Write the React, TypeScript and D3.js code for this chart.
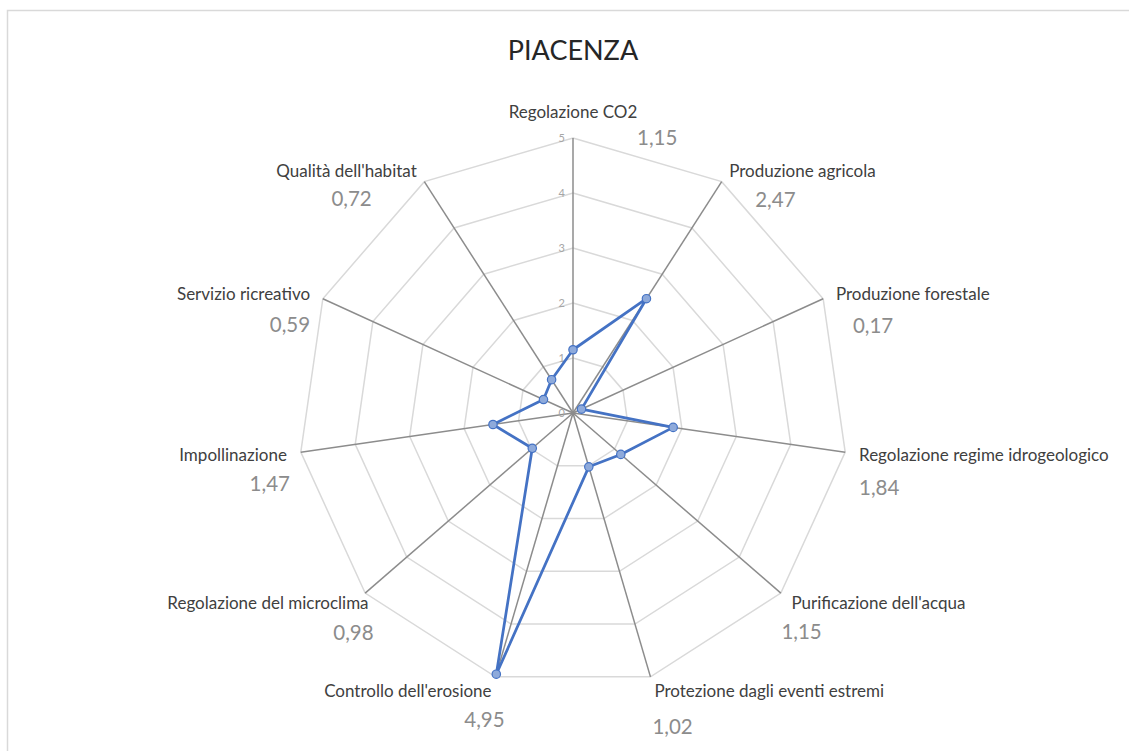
import React, { useRef, useEffect } from 'react';
import * as d3 from 'd3';

const categories = [
  'Regolazione CO2',
  'Produzione agricola',
  'Produzione forestale',
  'Regolazione regime idrogeologico',
  "Purificazione dell'acqua",
  'Protezione dagli eventi estremi',
  "Controllo dell'erosione",
  'Regolazione del microclima',
  'Impollinazione',
  'Servizio ricreativo',
  "Qualità dell'habitat",
];
const values = [1.15, 2.47, 0.17, 1.84, 1.15, 1.02, 4.95, 0.98, 1.47, 0.59, 0.72];
const ticks = [0, 1, 2, 3, 4, 5];
const title = 'PIACENZA';

// horizontal nudge for a few category labels
const labelNudge = [0, 0, 0, 0, 0, 0, 0, 14, 0, 0, 0];
// where the value text sits relative to the category label (dx, dy below)
const valueOffsets: [number, number][] = [
  [64, 0], [26, 28], [17, 31], [0, 32], [-10, 28], [-2, 35],
  [13, 28], [5, 29], [3, 28], [0, 30], [-45, 27],
];

const App = () => {
  const svgRef = useRef<SVGSVGElement>(null);
  const width = 1129;
  const height = 751;
  const cx = 573;
  const cy = 413;
  const radius = 275;

  useEffect(() => {
    const svg = d3.select(svgRef.current);
    svg.selectAll('*').remove();

    const font = 'Lato, "Open Sans", sans-serif';
    const n = categories.length;
    const r = d3.scaleLinear().domain([0, 5]).range([0, radius]);
    const angle = d3.scaleLinear().domain([0, n]).range([0, 2 * Math.PI]);
    const pt = (i: number, v: number): [number, number] => [
      cx + r(v) * Math.sin(angle(i)),
      cy - r(v) * Math.cos(angle(i)),
    ];

    svg.append('rect')
      .attr('x', 7.5).attr('y', 10.5)
      .attr('width', width).attr('height', height)
      .attr('fill', 'white')
      .attr('stroke', '#d9d9d9').attr('stroke-width', 1.5);

    svg.append('text')
      .attr('x', cx).attr('y', 60)
      .attr('text-anchor', 'middle')
      .attr('font-family', font).attr('font-size', 27)
      .attr('fill', '#262626')
      .text(title);

    const g = svg.append('g');

    // grid rings
    ticks.filter(t => t > 0).forEach(t => {
      const ring = d3.range(n).map(i => pt(i, t));
      g.append('path')
        .attr('d', d3.line()(ring) + 'Z')
        .attr('fill', 'none')
        .attr('stroke', '#d9d9d9').attr('stroke-width', 1.5);
    });

    // spokes
    categories.forEach((_, i) => {
      const [x, y] = pt(i, 5);
      g.append('line')
        .attr('x1', cx).attr('y1', cy).attr('x2', x).attr('y2', y)
        .attr('stroke', '#8c8c8c').attr('stroke-width', 1.5);
    });

    // tick labels
    ticks.forEach(t => {
      g.append('text')
        .attr('x', cx - 8).attr('y', cy - r(t) + 4)
        .attr('text-anchor', 'end')
        .attr('font-family', font).attr('font-size', 11)
        .attr('fill', '#a6a6a6')
        .text(t);
    });

    // data
    const pts = values.map((v, i) => pt(i, v));
    g.append('path')
      .attr('d', d3.line()(pts) + 'Z')
      .attr('fill', 'none')
      .attr('stroke', '#4472c4').attr('stroke-width', 2.75)
      .attr('stroke-linejoin', 'round');
    g.selectAll('circle.pt')
      .data(pts)
      .enter().append('circle')
      .attr('cx', d => d[0]).attr('cy', d => d[1])
      .attr('r', 4.2)
      .attr('fill', '#8eaadb')
      .attr('stroke', '#4472c4').attr('stroke-width', 1.2);

    // category + value labels
    categories.forEach((c, i) => {
      const a = angle(i);
      const s = Math.sin(a);
      const [ex, ey] = pt(i, 5);
      const lx = ex + 14 * s + labelNudge[i];
      const ly = ey - 14 * Math.cos(a);
      const anchor = Math.abs(s) < 0.1 ? 'middle' : s > 0 ? 'start' : 'end';
      const yBase = i === 0 ? ly - 6 : ly + 7;
      g.append('text')
        .attr('x', lx).attr('y', yBase)
        .attr('text-anchor', anchor)
        .attr('font-family', font).attr('font-size', 17)
        .attr('fill', '#404040')
        .text(c);
      const [dx, dy] = valueOffsets[i];
      g.append('text')
        .attr('x', lx + dx).attr('y', (i === 0 ? ly + 21 : yBase + dy + 2))
        .attr('text-anchor', i === 0 ? 'start' : anchor)
        .attr('font-family', font).attr('font-size', 20.5)
        .attr('fill', '#8c8c8c')
        .text(d3.format('.2f')(values[i]).replace('.', ','));
    });
  }, []);

  return (
    <svg
      ref={svgRef}
      width={width}
      height={height}
      style={{ position: 'absolute', left: 0, top: 0, background: 'white' }}
    />
  );
};

export default App;
